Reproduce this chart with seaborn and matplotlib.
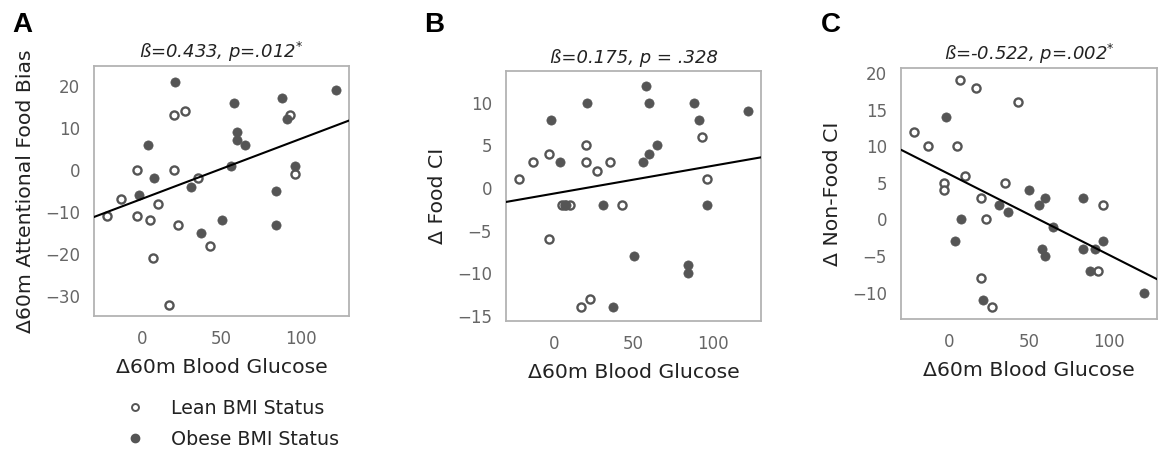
import numpy as np
import pandas as pd
import matplotlib
matplotlib.use("Agg")
import matplotlib.pyplot as plt
import seaborn as sns
from matplotlib.lines import Line2D

sns.set_theme(style="white")
plt.rcParams['font.family'] = ['DejaVu Sans']

# ---- data ----
lean_glucose = [-22, -13, -3, -3, 5, 7, 10, 17, 20, 20, 23, 27, 35, 43, 93, 96]
obese_glucose = [-2, 4, 7.5, 21, 31, 37, 50, 56, 58, 60, 60, 65, 84, 84, 88, 91, 96, 122]

lean_attn = [-11, -7, 0, -11, -12, -21, -8, -32, 13, 0, -13, 14, -2, -18, 13, -1]
obese_attn = [-6, 6, -2, 21, -4, -15, -12, 1, 16, 9, 7, 6, -5, -13, 17, 12, 1, 19]

lean_food = [1, 3, 4, -6, -2, -2, -2, -14, 5, 3, -13, 2, 3, -2, 6, 1]
obese_food = [8, 3, -2, 10, -2, -14, -8, 3, 12, 10, 4, 5, -9, -10, 10, 8, -2, 9]

lean_nonfood = [12, 10, 5, 4, 10, 19, 6, 18, 3, -8, 0, -12, 5, 16, -7, 2]
obese_nonfood = [14, -3, 0, -11, 2, 1, 4, 2, -4, 3, -5, -1, 3, -4, -7, -4, -3, -10]

panel_letters = ["A", "B", "C"]
titles = [r"ß=0.433, p=.012$^{*}$", "ß=0.175, p = .328", r"ß=-0.522, p=.002$^{*}$"]
ylabels = ["Δ60m Attentional Food Bias", "Δ Food CI", "Δ Non-Food CI"]
xlabel = "Δ60m Blood Glucose"
group_labels = ["Lean BMI Status", "Obese BMI Status"]

panels = [(lean_attn, obese_attn), (lean_food, obese_food), (lean_nonfood, obese_nonfood)]

# ---- layout ----
W, H = 1158, 454
fig = plt.figure(figsize=(W / 100, H / 100), dpi=100)

def box(l, t, r, b):
    return [l / W, 1 - b / H, (r - l) / W, (b - t) / H]

axes_px = [(94, 66, 349, 316), (506, 71, 761, 321), (901, 68, 1157, 319)]
ylims = [(-34.7, 24.7), (-15.6, 13.7), (-13.6, 20.7)]
yticks = [np.arange(-30, 21, 10), np.arange(-15, 11, 5), np.arange(-10, 21, 5)]
letter_pos = [(12, 25), (424, 25), (821, 25)]

dark = "#555555"
tick_col = "#666666"
text_col = "#222222"

for i, (lv, ov) in enumerate(panels):
    ax = fig.add_axes(box(*axes_px[i]))
    df = pd.DataFrame({
        "glucose": lean_glucose + obese_glucose,
        "value": lv + ov,
        "status": [group_labels[0]] * len(lean_glucose) + [group_labels[1]] * len(obese_glucose),
    })
    lean = df[df.status == group_labels[0]]
    obese = df[df.status == group_labels[1]]
    sns.scatterplot(data=lean, x="glucose", y="value", ax=ax, s=34,
                    facecolor="white", edgecolor=dark, linewidth=1.7, zorder=3)
    sns.scatterplot(data=obese, x="glucose", y="value", ax=ax, s=44,
                    color=dark, edgecolor=dark, linewidth=0.5, zorder=3)
    ax.set_xlim(-30, 130)
    ax.set_ylim(*ylims[i])
    sns.regplot(data=df, x="glucose", y="value", ax=ax, scatter=False, ci=None,
                truncate=False, color="black", line_kws={"lw": 1.5, "zorder": 4})
    ax.set_xlim(-30, 130)
    ax.set_ylim(*ylims[i])
    ax.set_xticks([0, 50, 100])
    ax.set_yticks(yticks[i])
    ax.tick_params(axis="both", length=0, pad=10, labelsize=12, labelcolor=tick_col)
    ax.set_xlabel(xlabel, fontsize=14.7, color=text_col, labelpad=7)
    ax.set_ylabel(ylabels[i], fontsize=14.7, color=text_col, labelpad=7)
    ax.set_title(titles[i], fontsize=13, style="italic", color=text_col, pad=6)
    for sp in ax.spines.values():
        sp.set_color("#b3b3b3")
        sp.set_linewidth(1.3)
    lx, ly = letter_pos[i]
    fig.text(lx / W, 1 - ly / H, panel_letters[i], fontsize=20, fontweight="bold",
             family="Liberation Sans", va="center", ha="left", color="black")

handles = [
    Line2D([], [], ls="", marker="o", markersize=5, markerfacecolor="white",
           markeredgecolor=dark, markeredgewidth=1.4),
    Line2D([], [], ls="", marker="o", markersize=6, markerfacecolor=dark,
           markeredgecolor=dark),
]
leg = fig.legend(handles, group_labels, loc="upper left",
                 bbox_to_anchor=(116 / W, 1 - 399 / H), frameon=False,
                 fontsize=13.7, handletextpad=0.9, labelspacing=0.62,
                 borderaxespad=0, borderpad=0)
for t in leg.get_texts():
    t.set_color(text_col)

fig.savefig("out.png", dpi=100)
